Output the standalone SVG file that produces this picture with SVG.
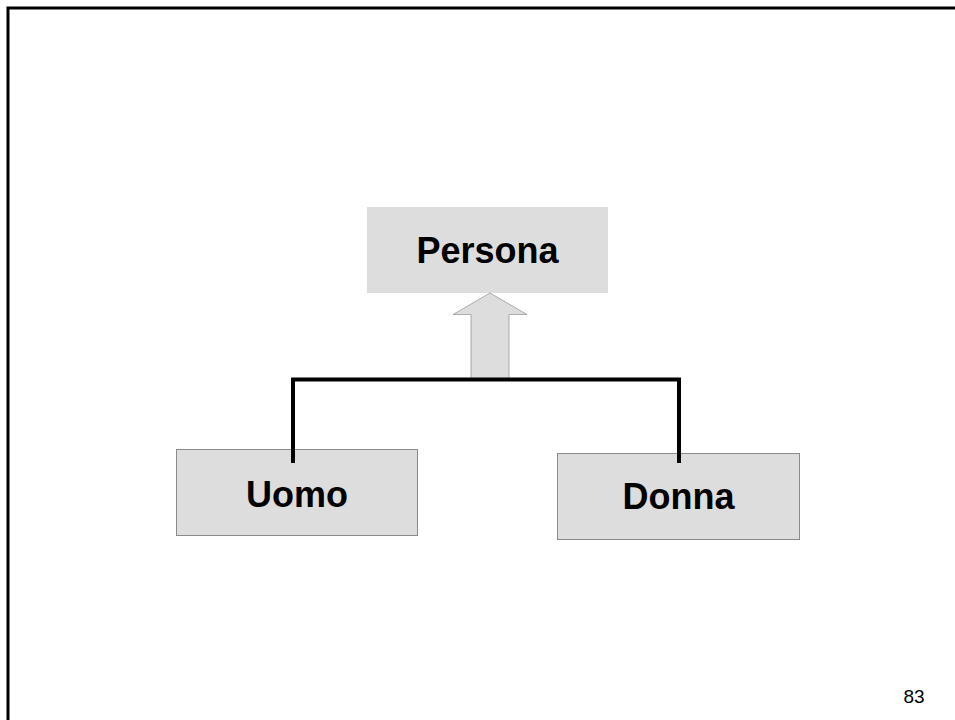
<svg xmlns="http://www.w3.org/2000/svg" width="955" height="720" viewBox="0 0 955 720">
<style>
.box{fill:#dddddd}
.child{fill:#dddddd;stroke:#8a8a8a;stroke-width:1}
.lbl{font-family:"Liberation Sans",Arial,sans-serif;font-weight:bold;font-size:36px;fill:#000;text-anchor:middle}
.conn{fill:none;stroke:#000;stroke-width:4}
</style>
<rect x="0" y="0" width="955" height="720" fill="#fff"/>
<g id="frame">
<path d="M8,720 V8 H955" fill="none" stroke="#000" stroke-width="3"/>
</g>
<g id="persona">
<rect class="box" x="367" y="207" width="241" height="86"/>
<text class="lbl" x="487.5" y="263">Persona</text>
</g>
<g id="uomo">
<rect class="child" x="176.5" y="449.5" width="241" height="86"/>
<text class="lbl" x="297" y="507">Uomo</text>
</g>
<g id="donna">
<rect class="child" x="557.5" y="453.5" width="242" height="86"/>
<text class="lbl" x="678.5" y="509">Donna</text>
</g>
<g id="connectors">
<path d="M490,293 L527,314.5 L509,314.5 L509,380 L471,380 L471,314.5 L453,314.5 Z" fill="#dddddd" stroke="#9a9a9a" stroke-width="0.8"/>
<path class="conn" d="M293,463 V379.5 H679 V463"/>
</g>
<text x="914" y="703" font-family="'Liberation Sans',Arial,sans-serif" font-size="19" text-anchor="middle" fill="#000">83</text>
</svg>
